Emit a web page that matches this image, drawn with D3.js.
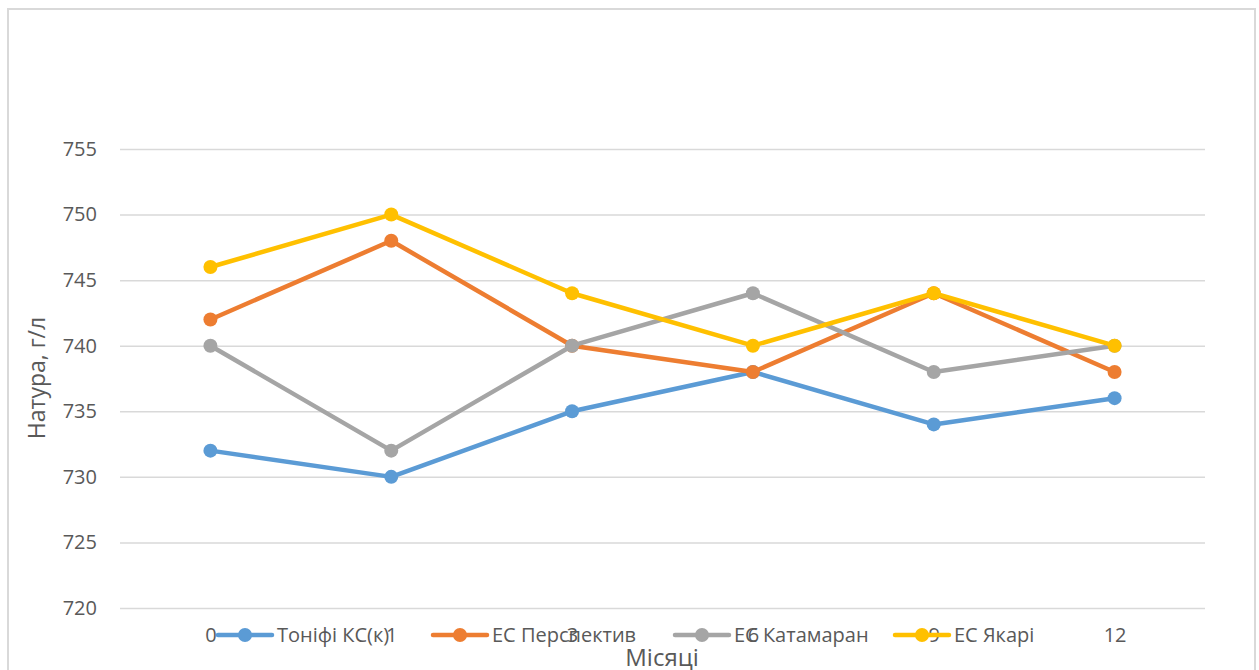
<!DOCTYPE html>
<html lang="uk">
<head>
    <meta charset="UTF-8">
    <title>Натура, г/л</title>
    <script src="https://d3js.org/d3.v7.min.js"></script>
    <style>
        body { margin: 0; background: #fff; font-family: "Open Sans", "Liberation Sans", sans-serif; }
        svg text { fill: #595959; font-family: "Open Sans", "Liberation Sans", sans-serif; }
    </style>
</head>
<body>
<svg id="chart" width="1259" height="670"></svg>
<script>
    // chart data
    const months = ["0", "1", "3", "6", "9", "12"];
    const seriesNames = ["Тоніфі КС(к)", "ЕС Перспектив", "ЕС Катамаран", "ЕС Якарі"];
    const tonifi = [732, 730, 735, 738, 734, 736];
    const perspektyv = [742, 748, 740, 738, 744, 738];
    const katamaran = [740, 732, 740, 744, 738, 740];
    const yakari = [746, 750, 744, 740, 744, 740];
    const yTicks = [720, 725, 730, 735, 740, 745, 750, 755];
    const colors = ["#5B9BD5", "#ED7D31", "#A5A5A5", "#FFC000"];

    const series = [tonifi, perspektyv, katamaran, yakari];

    const svg = d3.select("#chart");

    // outer frame of the chart
    svg.append("rect")
        .attr("x", 8).attr("y", 9)
        .attr("width", 1247).attr("height", 680)
        .style("fill", "none")
        .style("stroke", "#d9d9d9")
        .style("stroke-width", 2);

    const plotLeft = 120, plotRight = 1205, plotTop = 149, plotBottom = 608;

    const x = d3.scalePoint().domain(months).range([plotLeft, plotRight]).padding(0.5);
    const y = d3.scaleLinear().domain([720, 755]).range([plotBottom, plotTop]);

    // gridlines
    svg.append("g")
        .attr("transform", `translate(${plotLeft},0)`)
        .call(d3.axisLeft(y).tickValues(yTicks).tickSize(-(plotRight - plotLeft)).tickFormat(""))
        .call(g => g.select(".domain").remove())
        .call(g => g.selectAll("line").style("stroke", "#d9d9d9").style("stroke-width", 1.5));

    // y tick labels
    svg.append("g")
        .attr("transform", `translate(${plotLeft},0)`)
        .call(d3.axisLeft(y).tickValues(yTicks).tickSize(0).tickPadding(23))
        .call(g => g.select(".domain").remove())
        .call(g => g.selectAll("text")
            .style("font-size", "20px")
            .style("font-family", "Open Sans, sans-serif")
            .attr("fill", "#595959"));

    // x tick labels
    svg.append("g")
        .attr("transform", `translate(0,${plotBottom})`)
        .call(d3.axisBottom(x).tickSize(0).tickPadding(20))
        .call(g => g.select(".domain").remove())
        .call(g => g.selectAll("text")
            .style("font-size", "20px")
            .style("font-family", "Open Sans, sans-serif")
            .attr("fill", "#595959"));

    // axis titles
    svg.append("text")
        .attr("transform", "translate(45,378) rotate(-90)")
        .attr("text-anchor", "middle")
        .style("font-size", "23px")
        .text("Натура, г/л");

    svg.append("text")
        .attr("x", 662).attr("y", 666)
        .attr("text-anchor", "middle")
        .style("font-size", "24px")
        .text("Місяці");

    // lines and markers
    const line = d3.line().x((d, i) => x(months[i])).y(d => y(d));

    series.forEach(function(vals, s) {
        svg.append("path")
            .datum(vals)
            .attr("d", line)
            .style("fill", "none")
            .style("stroke", colors[s])
            .style("stroke-width", 4.5)
            .style("stroke-linejoin", "round")
            .style("stroke-linecap", "round");

        svg.append("g").selectAll("circle")
            .data(vals)
            .join("circle")
            .attr("cx", (d, i) => x(months[i]))
            .attr("cy", d => y(d))
            .attr("r", 7)
            .style("fill", colors[s]);
    });

    // legend (overlaps x axis labels like in the original)
    const legendX = [218, 433, 675, 895];
    const legendY = 635;
    seriesNames.forEach(function(name, s) {
        const lg = svg.append("g").attr("transform", `translate(${legendX[s]},${legendY})`);
        lg.append("line")
            .attr("x1", 0).attr("x2", 54)
            .attr("y1", 0).attr("y2", 0)
            .style("stroke", colors[s])
            .style("stroke-width", 4.5)
            .style("stroke-linecap", "round");
        lg.append("circle")
            .attr("cx", 27).attr("cy", 0).attr("r", 7)
            .style("fill", colors[s]);
        lg.append("text")
            .attr("x", 59).attr("y", 7)
            .style("font-size", "20px")
            .text(name);
    });
</script>
</body>
</html>
